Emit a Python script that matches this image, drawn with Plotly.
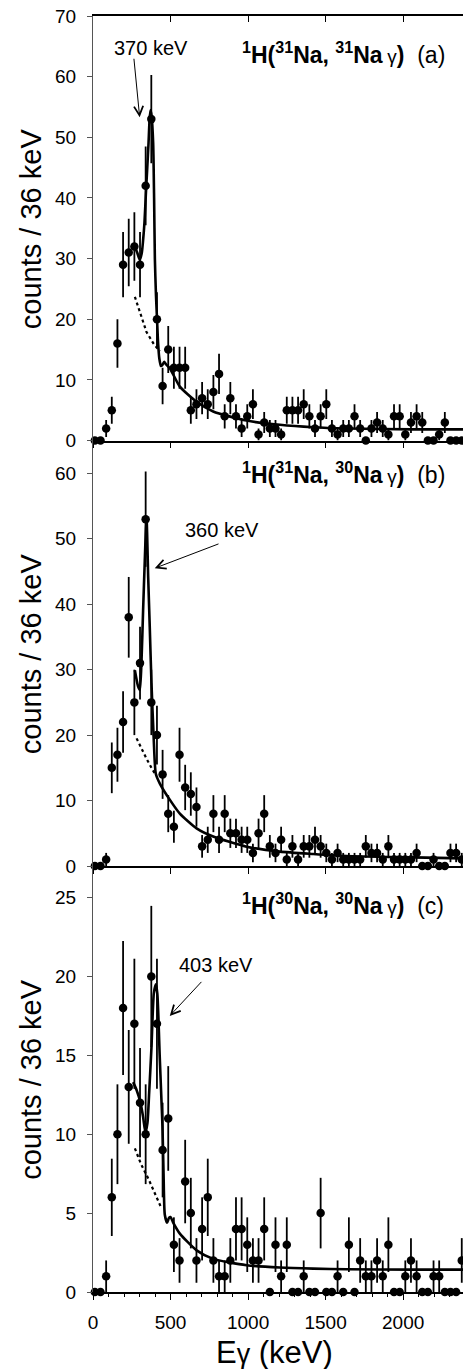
import numpy as np
import plotly.graph_objects as go

# ---------------- data ----------------
BIN_START = 12.0      # keV, centre of first bin
BIN_WIDTH = 36.4      # keV (labelled 36 keV)

counts_a = [0, 0, 2, 5, 16, 29, 31, 32, 29, 42, 53, 20, 9, 15, 12, 12, 12, 5, 6, 7,
            6, 8, 11, 4, 7, 4, 2, 4, 6, 1, 3, 2, 2, 1, 5, 5, 5, 6, 4, 2,
            4, 6, 2, 1, 2, 2, 4, 2, 0, 2, 3, 2, 1, 4, 4, 1, 3, 4, 3, 0,
            0, 1, 3, 0, 0, 0]
counts_b = [0, 0, 1, 15, 17, 22, 38, 25, 31, 53, 25, 20, 14, 8, 6, 17, 12, 11, 9, 3,
            4, 8, 4, 8, 5, 5, 4, 4, 2, 5, 8, 3, 2, 4, 1, 3, 1, 3, 3, 4,
            3, 2, 1, 2, 1, 1, 1, 1, 3, 2, 2, 1, 3, 1, 1, 1, 1, 2, 0, 0,
            1, 0, 0, 2, 2, 1]
counts_c = [0, 0, 1, 6, 10, 18, 13, 17, 12, 10, 20, 17, 9, 11, 3, 2, 7, 5, 2, 4,
            6, 2, 1, 1, 2, 4, 4, 3, 2, 2, 4, 0, 3, 1, 3, 0, 0, 1, 0, 0,
            5, 0, 0, 1, 0, 3, 0, 2, 1, 1, 2, 1, 3, 0, 0, 1, 2, 1, 0, 0,
            1, 1, 0, 0, 0, 2]

# fit curves (solid) and low-energy background (dotted)
fit_a_e = [270, 285, 302, 315, 323, 332, 341, 350, 358, 365, 371, 378, 388, 394, 399,
           406, 413, 420, 428, 438, 448, 459, 470, 496, 560, 668, 775, 990, 1205,
           1420, 1635, 2065, 2390]
fit_a_v = [32.0, 31.0, 29.8, 31.0, 33.0, 36.0, 40.7, 45.0, 49.0, 53.0, 54.5, 53.5, 49.0,
           40.0, 30.0, 24.0, 20.0, 16.0, 13.5, 12.3, 12.5, 13.0, 12.6, 11.9, 8.9, 6.4,
           4.8, 3.3, 2.6, 2.2, 2.0, 1.85, 1.85]
bg_a_e = [270, 300, 345, 390, 431]
bg_a_v = [23.7, 21.4, 17.9, 16.0, 14.7]

fit_b_e = [270, 291, 302, 313, 323, 334, 345, 356, 366, 377, 392, 405, 431, 496, 560,
           668, 775, 990, 1205, 1420, 1635, 2065, 2390]
fit_b_v = [29.9, 27.4, 26.9, 31.5, 39.0, 46.7, 53.3, 44.0, 36.5, 28.0, 19.2, 14.1, 12.6,
           10.1, 8.0, 5.75, 4.5, 2.95, 2.2, 1.83, 1.53, 1.32, 1.17]
bg_b_e = [281, 310, 345, 375, 399]
bg_b_v = [19.5, 18.0, 16.4, 15.1, 14.1]

fit_c_e = [259, 281, 306, 323, 338, 351, 362, 377, 392, 405, 415, 430, 440, 448, 455,
           463, 478, 490, 500, 517, 560, 668, 775, 990, 1205, 1420, 1635, 2065, 2390]
fit_c_v = [13.3, 12.8, 12.0, 11.1, 10.1, 10.7, 12.6, 15.5, 18.9, 19.5, 18.9, 15.0, 12.5,
           10.5, 7.5, 4.9, 4.4, 4.7, 4.75, 4.4, 3.7, 2.64, 2.1, 1.7, 1.55, 1.48, 1.44,
           1.42, 1.42]
bg_c_e = [270, 310, 356, 400, 442]
bg_c_v = [9.1, 8.1, 7.2, 6.2, 5.3]

GAMMA = "<span style='font-size:19px'>γ</span>"
titles = [f"<b><sup>1</sup>H(<sup>31</sup>Na, <sup>31</sup>Na</b>\u2009{GAMMA}<b>)</b>\u00a0\u00a0(a)",
          f"<b><sup>1</sup>H(<sup>31</sup>Na, <sup>30</sup>Na</b>\u2009{GAMMA}<b>)</b>\u00a0\u00a0(b)",
          f"<b><sup>1</sup>H(<sup>30</sup>Na, <sup>30</sup>Na</b>\u2009{GAMMA}<b>)</b>\u00a0\u00a0(c)"]
peak_labels = ["370 keV", "360 keV", "403 keV"]

X_RANGE = [0, 2386]
Y_RANGES = [[0, 70], [0, 65], [0, 27]]
Y_DTICK = [10, 10, 5]

FONT = "Liberation Sans, Arial, sans-serif"

# ---------------- figure ----------------
fig = go.Figure()
panels = [
    (counts_a, fit_a_e, fit_a_v, bg_a_e, bg_a_v),
    (counts_b, fit_b_e, fit_b_v, bg_b_e, bg_b_v),
    (counts_c, fit_c_e, fit_c_v, bg_c_e, bg_c_v),
]
axis_ids = [("x", "y"), ("x2", "y2"), ("x3", "y3")]

for (cnt, fe, fv, be, bv), (xa, ya) in zip(panels, axis_ids):
    cnt = np.array(cnt, dtype=float)
    centers = BIN_START + BIN_WIDTH * np.arange(len(cnt))
    err = np.sqrt(cnt)
    fig.add_trace(go.Scatter(x=be, y=bv, mode="lines", xaxis=xa, yaxis=ya,
                             line=dict(color="black", width=2.2, dash="dot"),
                             showlegend=False, hoverinfo="skip"))
    fig.add_trace(go.Scatter(x=fe, y=fv, mode="lines", xaxis=xa, yaxis=ya,
                             line=dict(color="black", width=2.6, shape="spline", smoothing=0.6),
                             showlegend=False, hoverinfo="skip"))
    fig.add_trace(go.Scatter(x=centers, y=cnt, mode="markers", xaxis=xa, yaxis=ya,
                             marker=dict(color="black", size=8.5),
                             error_y=dict(type="data", array=err, visible=True,
                                          color="black", thickness=1.8, width=0),
                             cliponaxis=False, showlegend=False))

# empty trace so that the top frame axis of panel (a) is drawn
fig.add_trace(go.Scatter(x=[None], y=[None], xaxis="x4", yaxis="y",
                         showlegend=False, hoverinfo="skip"))

H = 1369
T, B = 16, 77
PLOT_H = H - T - B
b1 = (H - B - 866) / PLOT_H
b2 = (H - B - 440.6) / PLOT_H
domains = [[b2, 1.0], [b1, b2], [0.0, b1]]

common_x = dict(range=X_RANGE, showline=True, linecolor="black", linewidth=1.6,
                ticks="outside", ticklen=6, tickwidth=1.3, tickcolor="black",
                dtick=500, tick0=0, showticklabels=False, showgrid=False,
                zeroline=False, side="bottom")

layout = dict(
    width=463, height=H,
    margin=dict(l=93, r=0, t=T, b=B),
    paper_bgcolor="white", plot_bgcolor="white",
    font=dict(family=FONT, color="black", size=19),
    xaxis=dict(**common_x, anchor="y"),
    xaxis2=dict(**common_x, anchor="y2"),
    xaxis3=dict(range=X_RANGE, anchor="y3", side="bottom",
                showline=True, linecolor="black", linewidth=1.6,
                ticks="outside", ticklen=6, tickwidth=1.3, tickcolor="black",
                dtick=500, tick0=0, showgrid=False, zeroline=False,
                showticklabels=True, ticklabelstandoff=6, tickfont=dict(size=19),
                minor=dict(dtick=100, ticks="outside", ticklen=3.5, tickwidth=1.1,
                           tickcolor="black", showgrid=False)),
    xaxis4=dict(range=X_RANGE, overlaying="x", anchor="y", side="top",
                showline=True, linecolor="black", linewidth=1.6,
                ticks="inside", ticklen=6, tickwidth=1.3, tickcolor="black",
                dtick=500, tick0=0, showticklabels=False, showgrid=False,
                zeroline=False),
    annotations=[],
)
for k, (yr, dt, dom) in enumerate(zip(Y_RANGES, Y_DTICK, domains)):
    name = "yaxis" if k == 0 else f"yaxis{k+1}"
    layout[name] = dict(domain=dom, range=yr, dtick=dt, tick0=0,
                        anchor="x" if k == 0 else f"x{k+1}",
                        showline=True, linecolor="#555", linewidth=1.3,
                        ticks="outside", ticklen=5, tickwidth=1.2, tickcolor="#555",
                        showgrid=False, zeroline=False, ticklabelstandoff=7,
                        tickfont=dict(size=19))

fig.update_layout(**layout)

# titles in each panel
title_pos = [(945, 63.9), (945, 60.0), (945, 24.6)]
label_pos = [(373, 64.7), (832, 51.3), (793, 20.7)]
arrow_tail = [(263, 63.2), (819, 49.3), (708, 19.75)]
arrow_head = [(301, 53.3), (398, 45.5), (495, 17.5)]
for k, (xa, ya) in enumerate(axis_ids):
    fig.add_annotation(x=title_pos[k][0], y=title_pos[k][1], xref=xa, yref=ya,
                       text=titles[k], showarrow=False, xanchor="left", yanchor="middle",
                       font=dict(size=23, family=FONT, color="black"))
    fig.add_annotation(x=label_pos[k][0], y=label_pos[k][1], xref=xa, yref=ya,
                       text=peak_labels[k], showarrow=False, xanchor="center",
                       yanchor="middle", font=dict(size=20, family=FONT, color="black"))
    fig.add_annotation(x=arrow_head[k][0], y=arrow_head[k][1], xref=xa, yref=ya,
                       ax=arrow_tail[k][0], ay=arrow_tail[k][1], axref=xa, ayref=ya,
                       text="", showarrow=True, arrowhead=5, arrowsize=1.8,
                       arrowwidth=1.0, arrowcolor="black", standoff=0, startstandoff=0)
    dom = domains[k]
    fig.add_annotation(x=-0.168, y=(dom[0] + dom[1]) / 2, xref="paper", yref="paper",
                       text="counts / 36 keV", showarrow=False, textangle=-90,
                       xanchor="center", yanchor="middle",
                       font=dict(size=29, family=FONT, color="black"))

fig.add_annotation(x=0.49, y=-(1353 - (H - B)) / PLOT_H, xref="paper", yref="paper",
                   text="E<span style='font-size:27px'>γ</span> (keV)", showarrow=False,
                   xanchor="center", yanchor="middle",
                   font=dict(size=31, family=FONT, color="black"))

fig.write_html(
    "out.html",
    config={"displayModeBar": False},
    post_script=("document.body.style.margin='0';document.body.style.padding='0';"
                 "document.documentElement.style.overflow='hidden';"
                 "document.body.style.overflow='hidden';"),
)
